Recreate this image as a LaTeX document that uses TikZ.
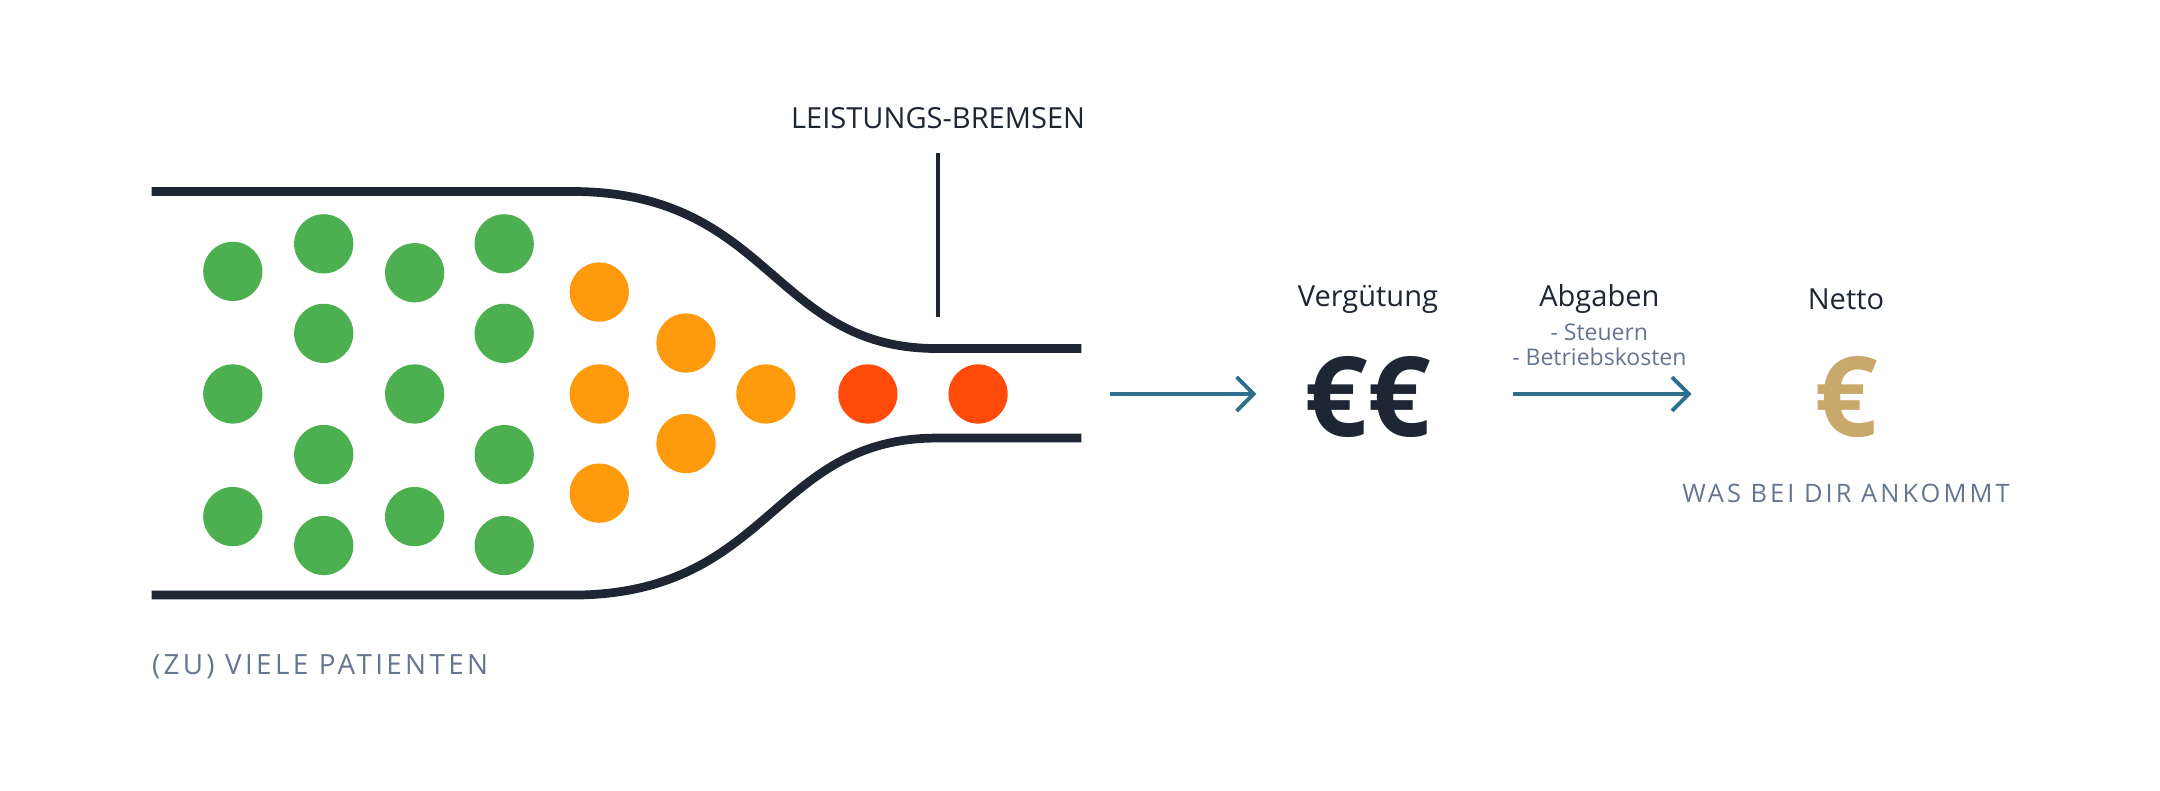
\documentclass[tikz,border=0pt]{standalone}
\usetikzlibrary{arrows.meta}
\usepackage{fontspec}
\setmainfont{Open Sans}
\newfontfamily\spaced[LetterSpace=12]{Open Sans}
\definecolor{dunkel}{HTML}{1E2533}
\definecolor{grau}{HTML}{66758F}
\definecolor{gruen}{HTML}{4CAF50}
\definecolor{orange}{HTML}{FF9A0D}
\definecolor{rot}{HTML}{FF4A0A}
\definecolor{pfeil}{HTML}{2F6F8E}
\definecolor{gold}{HTML}{C9A86C}
\begin{document}
\begin{tikzpicture}[x=0.02cm,y=-0.02cm,
  punkt/.style={circle,inner sep=0pt,minimum size=0.86cm},
  titel/.style={text=dunkel,font=\fontsize{12}{14}\selectfont},
  klein/.style={text=grau,font=\fontsize{9.5}{10}\selectfont},
  hinweis/.style={text=grau,font=\spaced\fontsize{10.5}{12}\selectfont},
  pfeilstil/.style={pfeil,line width=1.6pt,-{Straight Barb[length=7pt,width=14pt]}}]
  \useasboundingbox (0,0) rectangle (1568,574);

  % trichter
  \draw[line width=3.6pt,dunkel] (110,139) -- (415,139) .. controls (560,139) and (560,253) .. (680,253) -- (785,253);
  \draw[line width=3.6pt,dunkel] (110,432) -- (415,432) .. controls (560,432) and (560,318) .. (680,318) -- (785,318);

  % leistungs-bremsen
  \node[titel] (bremse) at (681,86) {LEISTUNGS-BREMSEN};
  \coordinate (engstelle) at (681,230);
  \draw[line width=1.6pt,dunkel] (681,111) -- (engstelle);

  % patienten
  \foreach \x/\y in {169/197,169/286,169/375,235/177,235/242,235/330,235/396,
                     301/198,301/286,301/375,366/177,366/242,366/330,366/396}
    \node[punkt,fill=gruen] (g-\x-\y) at (\x,\y) {};
  \foreach \x/\y in {435/212,435/286,435/358,498/249,498/322,556/286}
    \node[punkt,fill=orange] (o-\x-\y) at (\x,\y) {};
  \foreach \x in {630,710}
    \node[punkt,fill=rot] (r-\x) at (\x,286) {};
  \node[hinweis,font=\spaced\fontsize{11.5}{13}\selectfont,anchor=west,inner sep=0pt] (patienten) at (110,484) {(ZU) VIELE PATIENTEN};

  % verguetung
  \coordinate (ausgang) at (806,286);
  \coordinate (eingang) at (912,286);
  \node[titel] (verguetung) at (993,217) {Vergütung};
  \node[text=dunkel,font=\fontsize{46}{50}\selectfont\bfseries] (euros) at (993,288) {€€};
  \draw[pfeilstil] (ausgang) -- (eingang);

  % abgaben
  \node[titel] (abgaben) at (1161,217) {Abgaben};
  \node[klein] (steuern) at (1161,241) {- Steuern};
  \node[klein] (kosten) at (1161,259) {- Betriebskosten};
  \coordinate (abzug) at (1098,286);

  % netto
  \node[titel] (netto) at (1340,217) {Netto};
  \node[text=gold,font=\fontsize{46}{50}\selectfont\bfseries] (euro) at (1340,288) {€};
  \coordinate (ankunft) at (1228,286);
  \draw[pfeilstil] (abzug) -- (ankunft);
  \node[hinweis] (ankommt) at (1340,358) {WAS BEI DIR ANKOMMT};
\end{tikzpicture}
\end{document}
